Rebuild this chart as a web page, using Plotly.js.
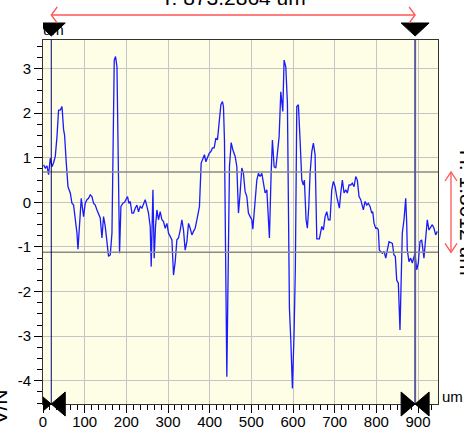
<!DOCTYPE html>
<html>
<head>
<meta charset="utf-8">
<script src="https://cdn.plot.ly/plotly-3.0.1.min.js"></script>
<style>html,body{margin:0;padding:0;background:#fff;overflow:hidden}#chart{width:464px;height:432px}</style>
</head>
<body>
<div id="chart"></div>
<script>
// Profile data (position in um, height in um)
const positions = [1.4,5.5,9.6,13.4,17.5,21.6,25.4,29.5,33.6,37.4,41.5,45.6,49.4,51.8,55.9,60.0,65.5,69.5,73.4,77.5,81.5,83.9,87.8,91.8,97.4,101.4,105.5,109.3,113.4,117.5,121.3,125.4,129.5,133.3,137.4,141.5,145.3,149.4,157.3,161.4,165.5,171.0,174.1,177.5,179.9,183.7,187.0,191.8,195.7,199.8,202.9,206.2,209.4,213.4,217.3,221.3,225.4,229.3,233.3,237.4,241.2,245.3,249.4,253.2,257.3,259.7,263.8,266.9,270.0,273.4,277.2,281.3,285.4,289.2,293.3,297.4,301.2,305.3,309.4,313.2,317.3,321.3,325.2,329.3,333.3,337.2,341.2,345.3,349.2,353.2,357.3,361.2,365.2,369.3,373.1,375.5,379.6,385.1,387.5,390.9,394.7,398.8,402.9,406.7,410.8,414.9,418.7,422.8,426.9,430.7,433.1,435.5,441.2,447.5,451.6,455.6,459.5,461.2,465.2,469.1,473.1,477.2,481.0,485.1,489.2,493.0,497.1,501.2,503.6,509.1,513.2,517.0,521.1,525.2,529.0,533.1,537.2,541.0,543.4,547.5,550.6,554.7,558.8,562.6,566.7,570.7,575.5,578.6,582.7,586.6,589.0,591.4,594.7,598.6,602.6,605.7,609.1,612.9,617.0,621.1,624.9,627.3,631.4,634.5,637.9,641.0,645.1,648.9,653.0,657.1,663.3,669.1,672.9,677.0,681.1,684.9,689.0,693.0,696.9,701.0,705.0,708.9,711.3,714.6,718.5,722.5,726.6,730.4,734.5,738.6,742.4,746.5,750.6,754.4,758.5,762.6,766.4,768.8,772.9,777.0,780.8,784.9,789.0,791.4,794.5,798.6,802.4,804.8,807.2,810.6,814.4,818.5,822.6,826.4,830.5,834.5,838.4,842.4,845.6,848.9,852.8,856.8,859.2,862.3,866.4,870.5,872.9,874.3,878.4,882.5,886.3,888.7,892.8,896.9,900.7,904.8,908.8,914.3,918.4,922.3,926.3,930.4,934.3,938.4,942.4,946.3];
const heights = [0.84,0.77,0.82,0.62,0.99,0.80,0.89,1.03,1.48,2.07,2.07,2.15,1.63,1.51,0.88,0.35,0.21,-0.02,-0.06,-0.39,-0.69,-1.05,-0.39,0.09,-0.32,-0.02,0.06,0.09,0.17,0.13,-0.02,-0.06,-0.17,-0.28,-0.35,-0.80,-0.32,-0.54,-1.21,-1.18,-0.69,3.19,3.27,3.04,1.40,-1.14,-0.09,-0.02,0.00,0.06,0.13,-0.02,0.02,-0.24,-0.24,-0.13,-0.06,-0.21,-0.09,-0.13,-0.02,0.06,-0.09,-0.24,-0.54,-1.44,0.28,-1.25,-0.54,-0.17,-0.39,-0.21,-0.39,-0.43,-0.58,-0.47,-0.69,-0.77,-0.84,-1.63,-1.33,-0.84,-0.80,-0.62,-0.39,-0.62,-1.07,-0.88,-0.47,-0.58,-0.73,-0.65,-0.58,-0.39,-0.17,-0.09,0.88,0.99,1.07,0.91,0.99,1.10,1.14,1.22,1.22,1.44,1.40,1.78,2.19,2.26,2.15,1.40,-3.91,0.80,1.34,1.18,1.07,1.03,0.80,-0.24,0.21,0.77,0.65,0.24,0.13,-0.24,-0.32,-0.39,-0.60,0.06,0.50,0.65,0.58,0.65,0.43,0.21,0.28,-0.24,-0.80,0.65,1.40,0.80,0.77,1.10,1.48,2.48,2.04,3.19,3.04,2.22,-1.44,-2.37,-3.08,-4.17,-2.93,-1.44,2.15,2.19,1.40,0.50,0.39,0.50,-0.39,-0.58,-0.09,0.65,1.14,1.33,1.07,-0.82,-0.82,-0.54,-0.62,-0.32,-0.21,-0.39,-0.39,0.28,0.47,0.35,0.13,-0.09,-0.13,0.21,0.50,0.21,0.28,0.21,0.39,0.39,0.43,0.35,0.58,0.50,0.13,0.06,-0.09,-0.17,0.02,-0.06,-0.02,-0.09,-0.24,-0.21,-0.47,-0.58,-0.58,-0.62,-1.07,-1.10,-1.14,-1.10,-1.25,-1.07,-0.88,-0.90,-0.92,-1.18,-1.21,-1.74,-1.81,-2.86,-1.81,-0.69,-0.39,0.09,-0.47,-1.07,-1.33,-1.25,-1.36,-1.25,-1.14,-1.51,-1.36,-0.88,-0.84,-1.25,-0.69,-0.39,-0.62,-0.54,-0.50,-0.58,-0.73,-0.65];
const xTickVals = [0,100,200,300,400,500,600,700,800,900];
const xTickText = ['0','100','200','300','400','500','600','700','800','900'];
const yTickVals = [-4,-3,-2,-1,0,1,2,3];
const yTickText = ['-4','-3','-2','-1','0','1','2','3'];
const cursorX = [19.8, 893.0864];
const cursorY = [0.6812, -1.12];
const titleText = 'T: 873.2864 um';
const heightText = 'H: 1.8012 um';
const xUnit = 'um';
const yUnit = 'um';
const sideText = 'V/N';

const shapes = [];
// horizontal cursor lines
cursorY.forEach(v => shapes.push({type:'line', xref:'paper', x0:0, x1:1, yref:'y', y0:v, y1:v, line:{color:'#8a8a8a', width:1.5}, layer:'above'}));
// vertical cursor lines
shapes.push({type:'line', xref:'x', x0:cursorX[0], x1:cursorX[0], yref:'paper', y0:0, y1:1, line:{color:'#00007a', width:1}, layer:'above'});
shapes.push({type:'line', xref:'x', x0:cursorX[1], x1:cursorX[1], yref:'paper', y0:0, y1:1, line:{color:'#5c5c9c', width:2}, layer:'above'});
// cursor markers
cursorX.forEach(cx => {
  shapes.push({type:'path', xref:'x', xsizemode:'pixel', xanchor:cx, yref:'paper', ysizemode:'pixel', yanchor:1,
    path:'M-14,17 L14,17 L0,4 Z', fillcolor:'#000', line:{color:'#000', width:1}, layer:'above'});
  shapes.push({type:'path', xref:'x', xsizemode:'pixel', xanchor:cx, yref:'paper', ysizemode:'pixel', yanchor:0,
    path:'M-14,12 L-14,-12 L0,0 Z M14,12 L14,-12 L0,0 Z', fillcolor:'#000', line:{color:'#000', width:1}, layer:'above'});
});
// horizontal dimension arrow
const red = '#ff5555';
shapes.push({type:'line', xref:'x', x0:cursorX[0], x1:cursorX[1], yref:'paper', ysizemode:'pixel', yanchor:1, y0:25, y1:25, line:{color:red, width:1.3}});
shapes.push({type:'path', xref:'x', xsizemode:'pixel', xanchor:cursorX[0], yref:'paper', ysizemode:'pixel', yanchor:1, path:'M6,33 L0,25 L6,17', line:{color:red, width:1.3}});
shapes.push({type:'path', xref:'x', xsizemode:'pixel', xanchor:cursorX[1], yref:'paper', ysizemode:'pixel', yanchor:1, path:'M-6,33 L0,25 L-6,17', line:{color:red, width:1.3}});
// vertical dimension arrow
shapes.push({type:'line', xref:'paper', xsizemode:'pixel', xanchor:1, x0:13, x1:13, yref:'y', y0:cursorY[0], y1:cursorY[1], line:{color:red, width:1.3}});
shapes.push({type:'path', xref:'paper', xsizemode:'pixel', xanchor:1, yref:'y', ysizemode:'pixel', yanchor:cursorY[0], path:'M7,-9 L13,0 L19,-9', line:{color:red, width:1.3}});
shapes.push({type:'path', xref:'paper', xsizemode:'pixel', xanchor:1, yref:'y', ysizemode:'pixel', yanchor:cursorY[1], path:'M7,9 L13,0 L19,9', line:{color:red, width:1.3}});

const font = 'Liberation Sans, Arial, Helvetica, sans-serif';
const annotations = [
  {text:titleText, xref:'x', x:(cursorX[0]+cursorX[1])/2, yref:'paper', y:1, yanchor:'bottom', yshift:29, showarrow:false, font:{family:font, size:21, color:'#000'}},
  {text:yUnit, xref:'paper', x:0, xanchor:'left', yref:'paper', y:1, yanchor:'bottom', yshift:0, xshift:-2, showarrow:false, font:{family:font, size:15, color:'#000'}},
  {text:xUnit, xref:'paper', x:1, xanchor:'left', xshift:2, yref:'paper', y:0, yanchor:'middle', yshift:8, showarrow:false, font:{family:font, size:15, color:'#000'}},
  {text:heightText, xref:'paper', x:1, xanchor:'left', xshift:16, yref:'y', y:(cursorY[0]+cursorY[1])/2, yanchor:'middle', textangle:90, showarrow:false, font:{family:font, size:21, color:'#000'}},
  {text:sideText, xref:'paper', x:0, xanchor:'right', xshift:-31, yref:'paper', y:0, yanchor:'middle', yshift:-3, textangle:-90, showarrow:false, font:{family:font, size:21, color:'#000'}}
];

const trace = {x:positions, y:heights, type:'scatter', mode:'lines', line:{color:'#1a1aff', width:1.3}, hoverinfo:'skip'};

const layout = {
  width:464, height:432,
  margin:{l:43, r:26, t:40, b:28, pad:0},
  paper_bgcolor:'#ffffff', plot_bgcolor:'#fefde6',
  showlegend:false,
  font:{family:font, size:14, color:'#000'},
  xaxis:{range:[0,948], tickmode:'array', tickvals:xTickVals, ticktext:xTickText,
    ticks:'outside', ticklen:8, tickcolor:'#000', tickwidth:1, ticklabelstandoff:-4,
    showgrid:true, gridcolor:'#c4c4c4', gridwidth:1, zeroline:false,
    showline:true, linecolor:'#333', linewidth:1, mirror:true,
    tickfont:{family:font, size:15, color:'#000'},
    minor:{tickmode:'linear', tick0:0, dtick:100/6, ticks:'outside', ticklen:5, tickcolor:'#000', showgrid:false}},
  yaxis:{range:[-4.52,3.64], tickmode:'array', tickvals:yTickVals, ticktext:yTickText,
    ticks:'outside', ticklen:8, tickcolor:'#000', tickwidth:1,
    showgrid:true, gridcolor:'#c4c4c4', gridwidth:1, zeroline:false,
    showline:true, linecolor:'#333', linewidth:1, mirror:true,
    tickfont:{family:font, size:15, color:'#000'},
    minor:{tickmode:'linear', tick0:0, dtick:0.25, ticks:'outside', ticklen:5, tickcolor:'#000', showgrid:false}},
  shapes:shapes,
  annotations:annotations
};

Plotly.newPlot('chart', [trace], layout, {staticPlot:true, displayModeBar:false});
</script>
</body>
</html>
